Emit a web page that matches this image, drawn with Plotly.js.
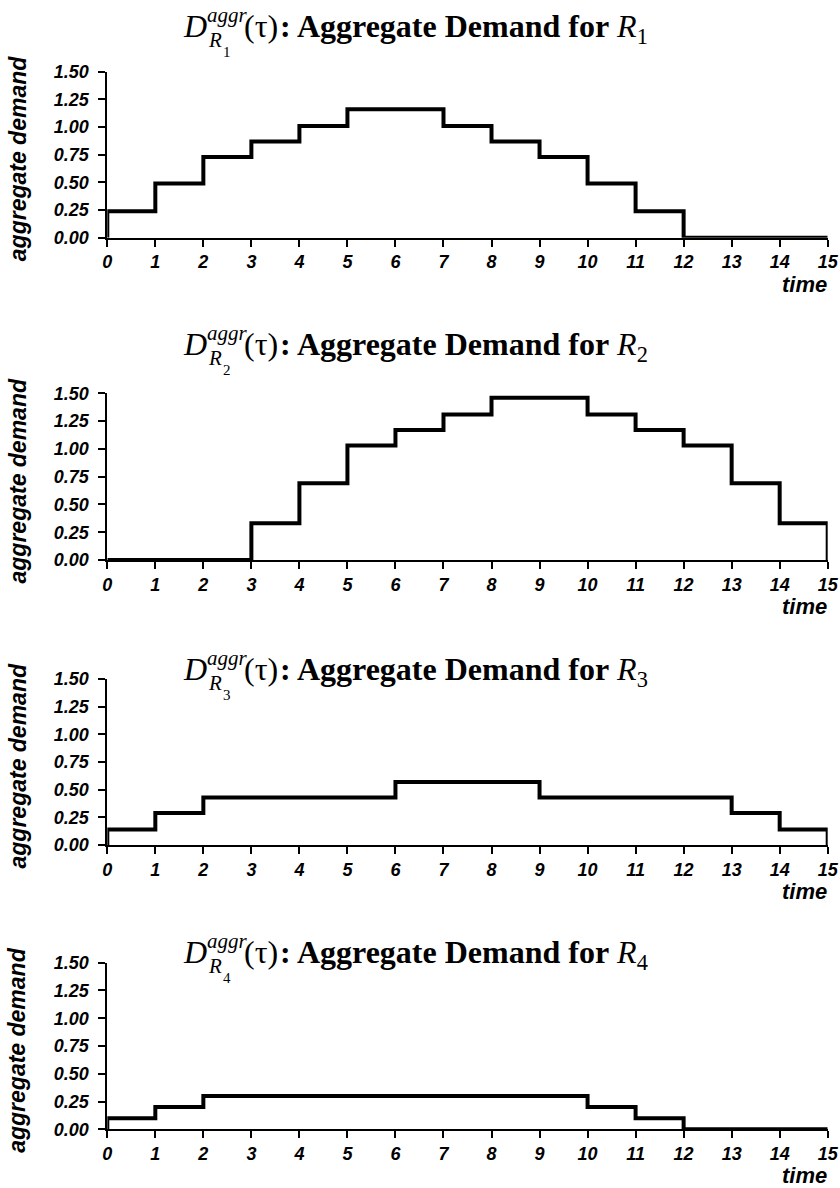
<!DOCTYPE html>
<html>
<head>
<meta charset="utf-8">
<script src="https://cdn.plot.ly/plotly-3.0.1.min.js"></script>
<style>
  html, body { margin: 0; padding: 0; background: #ffffff; }
  #chart { width: 840px; height: 1188px; }
</style>
</head>
<body>
<div id="chart"></div>
<script>
// Time slots 0..15; each demand value holds for one unit interval [t, t+1)
const timeTicks = [0, 1, 2, 3, 4, 5, 6, 7, 8, 9, 10, 11, 12, 13, 14, 15];
const demandTicks = [0, 0.25, 0.5, 0.75, 1.0, 1.25, 1.5];

const demandR1 = [0.24, 0.49, 0.73, 0.87, 1.01, 1.16, 1.16, 1.01, 0.87, 0.73, 0.49, 0.24, 0, 0, 0];
const demandR2 = [0, 0, 0, 0.33, 0.69, 1.03, 1.17, 1.31, 1.46, 1.46, 1.31, 1.17, 1.03, 0.69, 0.33];
const demandR3 = [0.14, 0.29, 0.43, 0.43, 0.43, 0.43, 0.57, 0.57, 0.57, 0.43, 0.43, 0.43, 0.43, 0.29, 0.14];
const demandR4 = [0.1, 0.2, 0.3, 0.3, 0.3, 0.3, 0.3, 0.3, 0.3, 0.3, 0.2, 0.1, 0, 0, 0];

const resourceIndex = ['1', '2', '3', '4'];
const series = [demandR1, demandR2, demandR3, demandR4];

const W = 840, H = 1188;
// panel geometry in pixels: y of the 0.00 and 1.50 levels, title baseline
const panels = [
  { zero: 237.7, top: 71.7, titleBase: 37 },
  { zero: 560.0, top: 393.3, titleBase: 355 },
  { zero: 845.0, top: 679.0, titleBase: 680 },
  { zero: 1129.3, top: 962.7, titleBase: 963 }
];
const xLeft = 107.3, xRight = 827.7;

const SANS = 'Liberation Sans, Arial, sans-serif';
const SERIF = 'Liberation Serif, Times New Roman, serif';
const ASC = { sans: 0.905, serif: 0.891 };

// text placed by its baseline (pixels), anchored left or right
function label(text, size, family, asc, xpx, basePx, anchor, extra) {
  const topPx = basePx - asc * size - 2;
  return {
    text: text,
    xref: 'paper', yref: 'paper',
    x: (anchor === 'right' ? xpx + 2 : xpx - 2) / W,
    y: 1 - topPx / H,
    xanchor: anchor, yanchor: 'top',
    showarrow: false,
    font: Object.assign({ family: family, size: size, color: '#000000' }, extra || {})
  };
}

const data = [];
const layout = {
  width: W, height: H,
  margin: { l: 0, r: 0, t: 0, b: 0 },
  paper_bgcolor: '#ffffff',
  plot_bgcolor: '#ffffff',
  showlegend: false,
  annotations: []
};

const tickFont = { family: SANS, size: 18, color: '#000000', weight: 'bold', style: 'italic' };

series.forEach((vals, i) => {
  const n = i + 1;
  const sfx = n === 1 ? '' : String(n);
  const p = panels[i];
  // step outline: rises from 0 at the first slot, drops back to 0 after the last one
  const xs = timeTicks.concat([timeTicks[timeTicks.length - 1]]);
  const ys = [0].concat(vals, [0]);
  data.push({
    type: 'scatter', mode: 'lines',
    x: xs, y: ys,
    xaxis: 'x' + sfx,
    yaxis: 'y' + sfx,
    line: { shape: 'vh', color: '#000000', width: 4 },
    cliponaxis: false,
    hoverinfo: 'skip'
  });

  layout['xaxis' + sfx] = {
    domain: [xLeft / W, xRight / W],
    anchor: 'y' + sfx,
    range: [0, 15],
    tickmode: 'array',
    tickvals: timeTicks,
    ticktext: timeTicks.map(String),
    showgrid: false, zeroline: false,
    showline: true, linecolor: '#000000', linewidth: 2,
    ticks: 'outside', ticklen: 7, tickwidth: 2, tickcolor: '#000000',
    tickfont: tickFont,
    fixedrange: true
  };
  layout['yaxis' + sfx] = {
    domain: [1 - p.zero / H, 1 - p.top / H],
    anchor: 'x' + sfx,
    range: [0, 1.5],
    tickmode: 'array',
    tickvals: demandTicks,
    ticktext: demandTicks.map(v => v.toFixed(2)),
    showgrid: false, zeroline: false,
    showline: true, linecolor: '#000000', linewidth: 2,
    ticks: 'outside', ticklen: 7, tickwidth: 2, tickcolor: '#000000',
    ticklabelstandoff: 6,
    tickfont: tickFont,
    fixedrange: true
  };

  const b = p.titleBase;
  const k = resourceIndex[i];
  // title: D with stacked superscript "aggr" and subscript R_k, then the caption
  layout.annotations.push(label('<i>D</i>', 32, SERIF, ASC.serif, 183, b, 'left'));
  layout.annotations.push(label('<i>aggr</i>', 21, SERIF, ASC.serif, 207, b - 15, 'left'));
  layout.annotations.push(label('<i>R</i>', 21, SERIF, ASC.serif, 208, b + 10, 'left'));
  layout.annotations.push(label(k, 15, SERIF, ASC.serif, 223, b + 20, 'left'));
  layout.annotations.push(label('(τ)', 32, SERIF, ASC.serif, 244, b, 'left'));
  layout.annotations.push(label('<b>: Aggregate Demand for</b> <i>R</i><sub>' + k + '</sub>', 32, SERIF, ASC.serif, 280, b, 'left'));

  // axis captions
  layout.annotations.push(label('time', 22, SANS, ASC.sans, 827, p.zero + 54, 'right', { weight: 'bold', style: 'italic' }));
  layout.annotations.push({
    text: 'aggregate demand',
    xref: 'paper', yref: 'paper',
    x: 17.5 / W, y: 1 - (p.zero - 79) / H,
    xanchor: 'center', yanchor: 'middle',
    textangle: -90,
    showarrow: false,
    font: { family: SANS, size: 23, color: '#000000', weight: 'bold', style: 'italic' }
  });
});

Plotly.newPlot('chart', data, layout, { staticPlot: true, displayModeBar: false }).then(gd => {
  // drop the empty axis-title placeholders
  gd.querySelectorAll('text').forEach(t => {
    if (!t.textContent.trim()) t.remove();
  });
});
</script>
</body>
</html>
